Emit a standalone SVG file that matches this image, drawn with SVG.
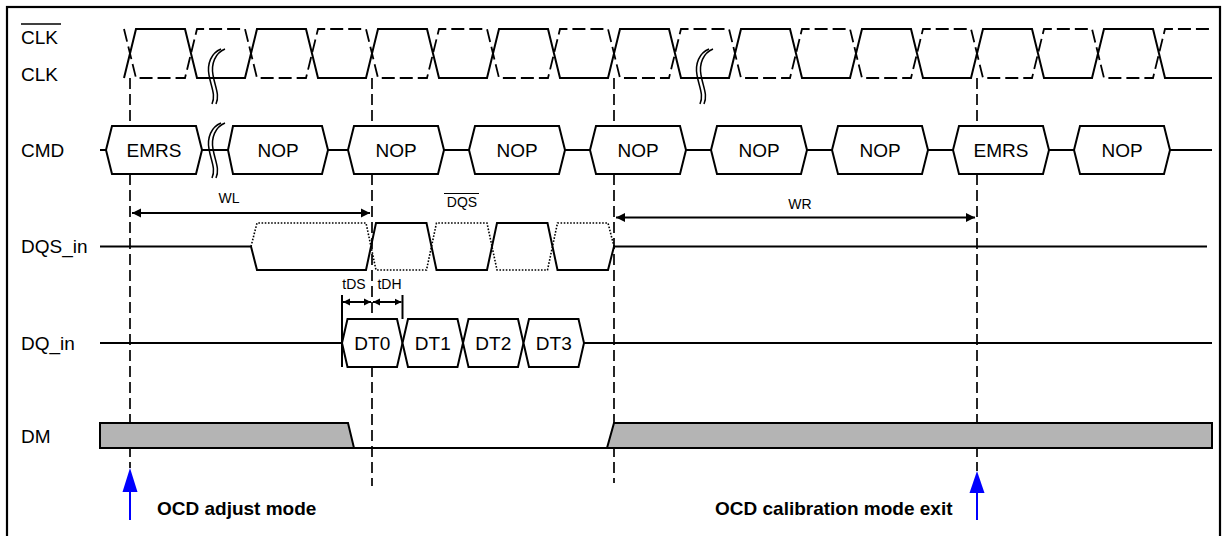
<svg xmlns="http://www.w3.org/2000/svg" width="1224" height="536" viewBox="0 0 1224 536">
<style>
text{font-family:"Liberation Sans",Arial,sans-serif;fill:#000}
.lbl{font-size:19px}
.box{font-size:19px;text-anchor:middle}
.sm{font-size:14px;text-anchor:middle}
.note{font-size:19px;font-weight:bold}
.w{fill:none;stroke:#000;stroke-width:2;stroke-linejoin:miter}
.wd{fill:none;stroke:#000;stroke-width:1.8;stroke-dasharray:13,5}
.dot{fill:none;stroke:#000;stroke-width:1.6;stroke-dasharray:1.6,1.6}
.hx{fill:#fff;stroke:#000;stroke-width:2}
.vd{fill:none;stroke:#000;stroke-width:1.7;stroke-dasharray:11,5}
.brk{fill:none;stroke:#000;stroke-width:1.5}
.dm{fill:#b4b4b4;stroke:#000;stroke-width:2}
.dim{fill:none;stroke:#000;stroke-width:2}
.blue{fill:#0000ff;stroke:none}
</style>
<defs>
<marker id="ah" viewBox="0 0 10 10" refX="10" refY="5" markerWidth="9" markerHeight="12" markerUnits="userSpaceOnUse" orient="auto-start-reverse"><path d="M0,0 L10,5 L0,10 z" fill="#000"/></marker>
<marker id="ahs" viewBox="0 0 10 10" refX="10" refY="5" markerWidth="7" markerHeight="10" markerUnits="userSpaceOnUse" orient="auto-start-reverse"><path d="M0,0 L10,5 L0,10 z" fill="#000"/></marker>
<path id="brkA" d="M221,0 C211,4 207,15 209,26 C211,38 216,46 212,55"/>
</defs>
<rect x="7" y="7" width="1213" height="540" fill="#fff" stroke="#000" stroke-width="2.2"/>

<g id="connectors">
<line class="vd" x1="130" y1="78" x2="130" y2="468"/>
<line class="vd" x1="372" y1="78" x2="372" y2="486"/>
<line class="vd" x1="614" y1="78" x2="614" y2="483"/>
<line class="vd" x1="977" y1="78" x2="977" y2="471"/>
</g>

<g id="labels">
<text class="lbl" x="21" y="44">CLK</text>
<line x1="21" y1="24" x2="61" y2="24" stroke="#000" stroke-width="1.3"/>
<text class="lbl" x="21" y="81">CLK</text>
<text class="lbl" x="21" y="157">CMD</text>
<text class="lbl" x="21" y="253">DQS_in</text>
<text class="lbl" x="21" y="350">DQ_in</text>
<text class="lbl" x="21" y="443">DM</text>
</g>

<g id="clk">
<path class="w" d="M124,78 L136,29 L185,29 L197,78 L245,78 L257,29 L306,29 L318,78 L366,78 L378,29 L427,29 L439,78 L487,78 L499,29 L548,29 L560,78 L608,78 L620,29 L669,29 L681,78 L729,78 L741,29 L790,29 L802,78 L850,78 L862,29 L911,29 L923,78 L971,78 L983,29 L1032,29 L1044,78 L1092,78 L1104,29 L1153,29 L1165,78 L1212,78"/>
<path class="wd" d="M124,29 L136,78 L185,78 L197,29 L245,29 L257,78 L306,78 L318,29 L366,29 L378,78 L427,78 L439,29 L487,29 L499,78 L548,78 L560,29 L608,29 L620,78 L669,78 L681,29 L729,29 L741,78 L790,78 L802,29 L850,29 L862,78 L911,78 L923,29 L971,29 L983,78 L1032,78 L1044,29 L1092,29 L1104,78 L1153,78 L1165,29 L1212,29"/>
<g class="brk" transform="translate(0,49)"><use href="#brkA"/><use href="#brkA" x="4"/></g>
<g class="brk" transform="translate(488,49)"><use href="#brkA"/><use href="#brkA" x="4"/></g>
</g>

<g id="cmd">
<line class="w" x1="100" y1="150" x2="1212" y2="150"/>
<g class="brk" transform="translate(0,123)"><use href="#brkA"/><use href="#brkA" x="4"/></g>
<polygon class="hx" points="106,150 112,126 196,126 202,150 196,174 112,174"/><text class="box" x="154" y="157">EMRS</text>
<polygon class="hx" points="228,150 233,126 322,126 328,150 322,174 233,174"/><text class="box" x="278" y="157">NOP</text>
<polygon class="hx" points="348,150 354,126 438,126 444,150 438,174 354,174"/><text class="box" x="396" y="157">NOP</text>
<polygon class="hx" points="469,150 475,126 559,126 565,150 559,174 475,174"/><text class="box" x="517" y="157">NOP</text>
<polygon class="hx" points="590,150 596,126 680,126 686,150 680,174 596,174"/><text class="box" x="638" y="157">NOP</text>
<polygon class="hx" points="711,150 717,126 801,126 807,150 801,174 717,174"/><text class="box" x="759" y="157">NOP</text>
<polygon class="hx" points="832,150 838,126 922,126 928,150 922,174 838,174"/><text class="box" x="880" y="157">NOP</text>
<polygon class="hx" points="953,150 959,126 1043,126 1049,150 1043,174 959,174"/><text class="box" x="1001" y="157">EMRS</text>
<polygon class="hx" points="1074,150 1080,126 1164,126 1170,150 1164,174 1080,174"/><text class="box" x="1122" y="157">NOP</text>
</g>

<g id="timing">
<line class="dim" x1="132" y1="213" x2="370" y2="213" marker-start="url(#ah)" marker-end="url(#ah)"/>
<text class="sm" x="229" y="203">WL</text>
<line class="dim" x1="616" y1="217.5" x2="975" y2="217.5" marker-start="url(#ah)" marker-end="url(#ah)"/>
<text class="sm" x="800" y="209">WR</text>
<text class="sm" x="462" y="207">DQS</text>
<line x1="444" y1="193.5" x2="479" y2="193.5" stroke="#000" stroke-width="1.2"/>
<text class="sm" x="354" y="289">tDS</text>
<text class="sm" x="389.5" y="289">tDH</text>
</g>

<g id="dqs">
<path class="w" d="M100,246.5 L251,246.5 L257,270 L366,270 L376,223 L426.5,223 L436.5,270 L487,270 L497,223 L547.5,223 L557.5,270 L608,270 L614,246.5 L1207,246.5"/>
<path class="dot" d="M251,246.5 L257,223 L366,223 L376,270 L426.5,270 L436.5,223 L487,223 L497,270 L547.5,270 L557.5,223 L608,223 L614,246.5"/>
</g>

<g id="dq">
<line class="w" x1="100" y1="343" x2="342" y2="343"/>
<line class="w" x1="584" y1="343" x2="1212" y2="343"/>
<polygon class="hx" points="342,343 347.5,319 397,319 402.5,343 397,367 347.5,367"/><text class="box" x="372.3" y="350">DT0</text>
<polygon class="hx" points="402.5,343 408,319 457.5,319 463,343 457.5,367 408,367"/><text class="box" x="432.8" y="350">DT1</text>
<polygon class="hx" points="463,343 468.5,319 518,319 523.5,343 518,367 468.5,367"/><text class="box" x="493.3" y="350">DT2</text>
<polygon class="hx" points="523.5,343 529,319 578.5,319 584,343 578.5,367 529,367"/><text class="box" x="553.8" y="350">DT3</text>
<line class="dim" x1="342" y1="295" x2="342" y2="367"/>
<line class="dim" x1="402.5" y1="295" x2="402.5" y2="319"/>
<line class="dim" x1="343" y1="302" x2="371" y2="302" marker-start="url(#ahs)" marker-end="url(#ahs)"/>
<line class="dim" x1="373" y1="302" x2="401.5" y2="302" marker-start="url(#ahs)" marker-end="url(#ahs)"/>
</g>

<g id="dm">
<polygon class="dm" points="100,423 348,423 354,448 100,448"/>
<line class="w" x1="354" y1="448" x2="607" y2="448"/>
<polygon class="dm" points="607,448 614,423 1212,423 1212,448"/>
</g>

<g id="note-adjust">
<line x1="130" y1="490" x2="130" y2="520" stroke="#0000ff" stroke-width="2"/>
<polygon class="blue" points="130,468 122.5,492 137.5,492"/>
<text class="note" x="157" y="515">OCD adjust mode</text>
</g>
<g id="note-exit">
<line x1="977" y1="491" x2="977" y2="520" stroke="#0000ff" stroke-width="2"/>
<polygon class="blue" points="977,471 969.5,493 984.5,493"/>
<text class="note" x="715" y="515">OCD calibration mode exit</text>
</g>
</svg>
